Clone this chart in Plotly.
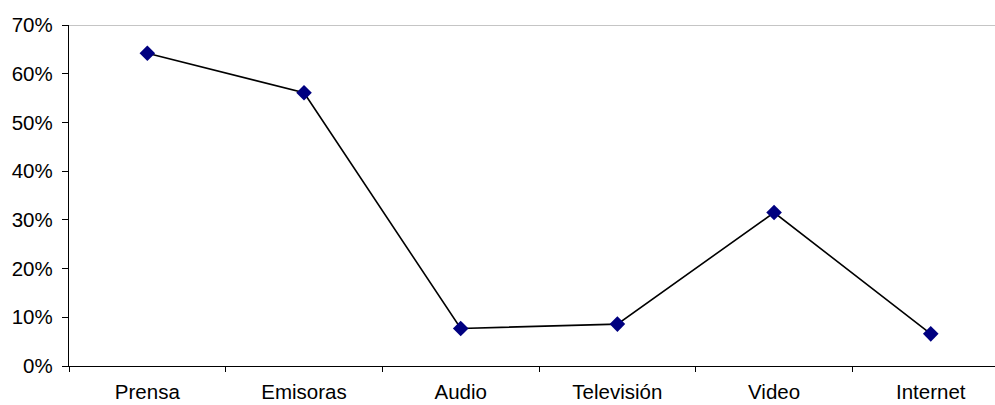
import plotly.graph_objects as go

# Media categories and share of respondents (%)
categories = ["Prensa", "Emisoras", "Audio", "Televisión", "Video", "Internet"]
values = [64.2, 56.1, 7.7, 8.6, 31.5, 6.6]
y_ticks = [0, 10, 20, 30, 40, 50, 60, 70]
y_max = 70

x_pos = list(range(len(categories)))
boundaries = [i - 0.5 for i in range(len(categories) + 1)]
y_labels = [f"{v}%" for v in y_ticks]

fig = go.Figure()
fig.add_trace(go.Scatter(
    x=x_pos,
    y=values,
    mode="lines+markers",
    line=dict(color="black", width=1.6),
    marker=dict(symbol="diamond", size=12, color="#000080",
                line=dict(width=0)),
    cliponaxis=False,
    showlegend=False,
))

# Top edge of the plot area
fig.add_shape(type="line", xref="paper", yref="y", x0=0, x1=1,
              y0=y_max, y1=y_max, line=dict(color="#8c8c8c", width=1))

font = dict(family="Liberation Sans, Arial, sans-serif", size=20.5, color="black")

fig.update_layout(
    width=995, height=405,
    margin=dict(l=69, r=0, t=25, b=39),
    paper_bgcolor="white", plot_bgcolor="white",
    font=font,
    xaxis=dict(
        range=[-0.5, 5.41],
        automargin=False,
        tickmode="array", tickvals=x_pos, ticktext=categories,
        ticks="", showgrid=False, zeroline=False,
        showline=True, linecolor="black", linewidth=1.3,
        ticklabelstandoff=7,
        minor=dict(tickmode="array", tickvals=boundaries, ticks="outside",
                   ticklen=5, tickwidth=1, tickcolor="black", showgrid=False),
    ),
    yaxis=dict(
        range=[0, y_max],
        automargin=False,
        tickmode="array", tickvals=y_ticks, ticktext=y_labels,
        ticks="outside", ticklen=6, tickwidth=1, tickcolor="black",
        showgrid=False, zeroline=False,
        showline=True, linecolor="black", linewidth=1.3,
        ticklabelstandoff=5,
    ),
)

fig.write_html("out.html")
